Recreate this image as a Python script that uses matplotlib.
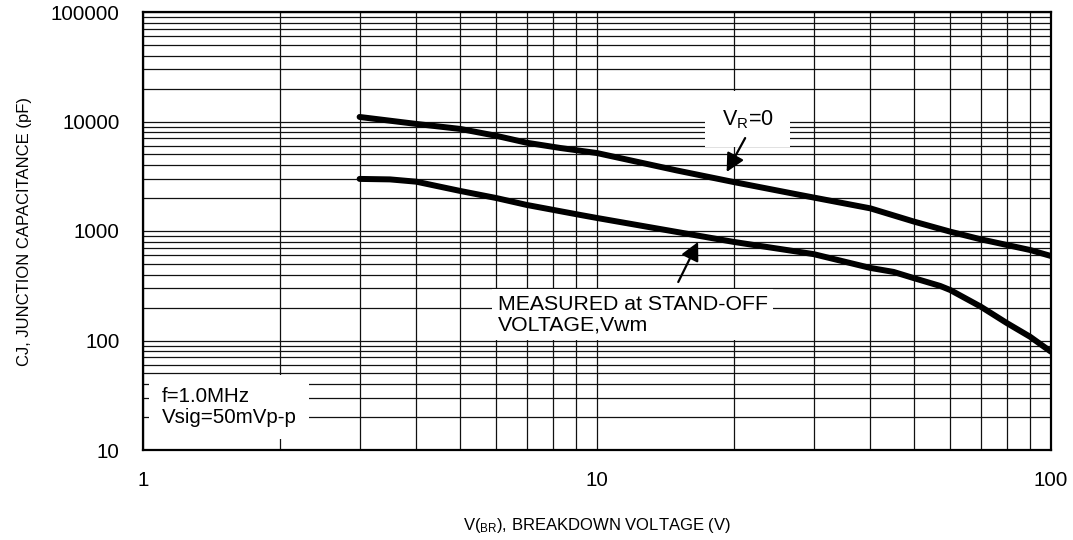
import numpy as np
import matplotlib
matplotlib.use("Agg")
import matplotlib.pyplot as plt
from matplotlib.ticker import LogLocator, NullFormatter, FixedLocator

plt.rcParams['font.family'] = ['Liberation Sans', 'DejaVu Sans']
plt.rcParams['mathtext.default'] = 'regular'

# --- dados ---
v_upper = [3, 4, 5, 6, 7, 8.3, 10, 15, 20, 28, 40, 50, 60, 70, 80, 90, 100]
cj_upper = [11000, 9500, 8550, 7400, 6400, 5730, 5150, 3570, 2800, 2135,
            1610, 1216, 986, 840, 745, 670, 591]

v_lower = [3, 3.5, 4, 5, 6, 7, 9.2, 10, 15, 20, 30, 40, 45, 50, 57, 60, 70, 80, 90, 100]
cj_lower = [2990, 2960, 2820, 2320, 2000, 1730, 1400, 1315, 980, 795, 615,
            460, 423, 370, 315, 289, 204, 144, 108, 79]

x_ticks = [1, 10, 100]
x_tick_labels = ["1", "10", "100"]
y_ticks = [10, 100, 1000, 10000, 100000]
y_tick_labels = ["10", "100", "1000", "10000", "100000"]

fig = plt.figure(figsize=(10.73, 5.40), dpi=100)
ax = fig.add_axes([143 / 1073, 90 / 540, 908 / 1073, 438 / 540])

ax.set_xscale('log')
ax.set_yscale('log')
ax.set_xlim(1, 100)
ax.set_ylim(10, 100000)

ax.xaxis.set_major_locator(FixedLocator(x_ticks))
ax.set_xticklabels(x_tick_labels)
ax.yaxis.set_major_locator(FixedLocator(y_ticks))
ax.set_yticklabels(y_tick_labels)
for axis in (ax.xaxis, ax.yaxis):
    axis.set_minor_locator(LogLocator(base=10, subs=np.arange(2, 10), numticks=100))
    axis.set_minor_formatter(NullFormatter())

ax.tick_params(which='both', length=0)
ax.tick_params(axis='x', labelsize=14.8, pad=15)
ax.tick_params(axis='y', labelsize=14.8, pad=17)

ax.grid(True, which='both', color='#111111', lw=0.9)
ax.set_axisbelow(True)
for s in ax.spines.values():
    s.set_linewidth(1.6)
    s.set_color('black')

# --- curvas ---
ax.plot(v_upper, cj_upper, color='black', lw=4.3, solid_capstyle='round', zorder=3)
ax.plot(v_lower, cj_lower, color='black', lw=4.3, solid_capstyle='round', zorder=3)

# --- anotações ---
arrow = dict(arrowstyle='-|>,head_length=0.55,head_width=0.28', mutation_scale=20,
             color='black', lw=1.6, shrinkA=0, shrinkB=0)

ax.text(21.5, 9300, r'V$_R$=0', fontsize=15.5, ha='center', va='baseline',
        bbox=dict(facecolor='white', edgecolor='none', pad=12), zorder=4)
ax.annotate('', xy=(19.3, 3460), xytext=(21.2, 7060), arrowprops=arrow, zorder=5)

ax.text(6.05, 172, 'MEASURED at STAND-OFF\nVOLTAGE,Vwm', fontsize=15.3, ha='left',
        va='center', linespacing=1.1,
        bbox=dict(facecolor='white', edgecolor='none', pad=4), zorder=4)
ax.annotate('', xy=(16.7, 795), xytext=(15.1, 342), arrowprops=arrow, zorder=5)

ax.text(1.10, 24.7, 'f=1.0MHz\nVsig=50mVp-p', fontsize=14.8, ha='left',
        va='center', linespacing=1.1,
        bbox=dict(facecolor='white', edgecolor='none', pad=9), zorder=4)

ax.set_xlabel(r'V($_{BR}$), BREAKDOWN VOLTAGE (V)', fontsize=12, labelpad=19)
ax.set_ylabel('CJ, JUNCTION CAPACITANCE (pF)', fontsize=12, labelpad=13)

fig.savefig('out.png', dpi=100)
